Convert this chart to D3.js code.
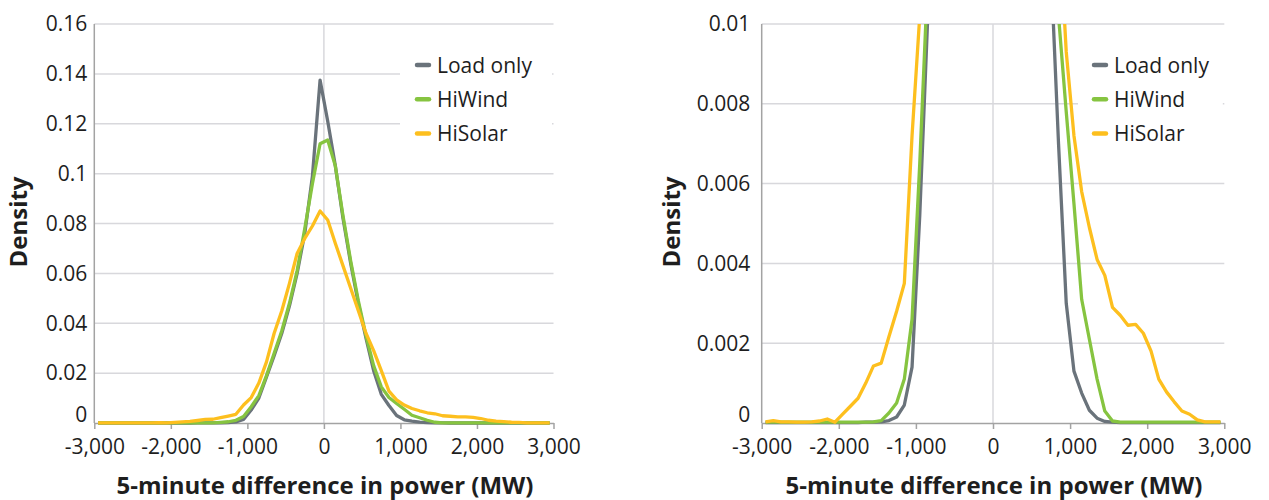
<!DOCTYPE html>
<html><head><meta charset="utf-8">
<script src="https://cdn.jsdelivr.net/npm/d3@7/dist/d3.min.js"></script>
<style>
body{margin:0;background:#fff}
text{font-family:"Open Sans",sans-serif;fill:#1e1e1e}
</style>
</head><body>
<svg id="c" width="1269" height="500"></svg>
<script>
// ---- data ----
const binCenters = [-2950,-2850,-2750,-2650,-2550,-2450,-2350,-2250,-2150,-2050,
  -1950,-1850,-1750,-1650,-1550,-1450,-1350,-1250,-1150,-1050,
  -950,-850,-750,-650,-550,-450,-350,-250,-150,-50,
  50,150,250,350,450,550,650,750,850,950,
  1050,1150,1250,1350,1450,1550,1650,1750,1850,1950,
  2050,2150,2250,2350,2450,2550,2650,2750,2850,2950];

const seriesNames = ["Load only", "HiWind", "HiSolar"];

const loadOnly = [0.00001,0.00001,0.00001,0.00001,0.00001,0.00001,0.00001,0.00001,0.00001,0.00001,
  0.00001,0.00001,0.00001,0.00002,0.00002,0.00003,0.00006,0.00015,0.00045,0.0014,
  0.0052,0.0100,0.0185,0.027,0.036,0.047,0.060,0.076,0.099,0.1375,
  0.121,0.103,0.082,0.064,0.048,0.034,0.021,0.0115,0.0070,0.0030,
  0.0013,0.00075,0.00032,0.00012,0.00004,0.00002,0.00001,0.00001,0.00001,0.00001,
  0.00001,0.00001,0.00001,0.00001,0.00001,0.00001,0.00001,0.00001,0.00001,0.00001];

const hiWind = [0.00002,0.00002,0.00002,0.00002,0.00002,0.00002,0.00002,0.00002,0.00002,0.00002,
  0.00002,0.00002,0.00002,0.00002,0.00003,0.00006,0.00025,0.0005,0.0011,0.0026,
  0.0065,0.011,0.019,0.028,0.037,0.048,0.061,0.078,0.096,0.112,
  0.1135,0.103,0.083,0.065,0.049,0.035,0.023,0.0145,0.0102,0.0078,
  0.0055,0.0031,0.0021,0.0011,0.0003,0.00005,0.00002,0.00002,0.00002,0.00002,
  0.00002,0.00002,0.00002,0.00002,0.00002,0.00002,0.00002,0.00002,0.00002,0.00002];

const hiSolar = [0.00003,0.00006,0.00003,0.00003,0.00002,0.00002,0.00003,0.00005,0.0001,0.00002,
  0.00022,0.00042,0.00062,0.001,0.00143,0.0015,0.00216,0.0028,0.0035,0.0072,
  0.0102,0.016,0.0245,0.036,0.045,0.056,0.068,0.074,0.079,0.085,
  0.0814,0.072,0.063,0.054,0.045,0.036,0.029,0.021,0.0128,0.0093,
  0.0072,0.0058,0.0049,0.0041,0.0037,0.0029,0.0027,0.00245,0.00247,0.00225,
  0.0018,0.0011,0.00078,0.00053,0.0003,0.00022,0.00008,0.00003,0.00003,0.00003];

const xTicks = [-3000,-2000,-1000,0,1000,2000,3000];
const xTickLabels = ["-3,000","-2,000","-1,000","0","1,000","2,000","3,000"];
const yTicksLeft = [0,0.02,0.04,0.06,0.08,0.1,0.12,0.14,0.16];
const yTickLabelsLeft = ["0","0.02","0.04","0.06","0.08","0.1","0.12","0.14","0.16"];
const yTicksRight = [0,0.002,0.004,0.006,0.008,0.01];
const yTickLabelsRight = ["0","0.002","0.004","0.006","0.008","0.01"];

const xTitle = "5-minute difference in power (MW)";
const yTitle = "Density";
const colors = ["#6a737b", "#86c440", "#fdbf1e"];
const seriesValues = [loadOnly, hiWind, hiSolar];

// ---- drawing ----
const svg = d3.select("#c");

function panel(o) {
  const g = svg.append("g");
  const x = d3.scaleLinear().domain([-3000, 3000]).range([o.x0, o.x1]);
  const y = d3.scaleLinear().domain([0, o.yMax]).range([423, 24]);
  const grid = "#d8d8dc", axisC = "#a3a3a3";

  // horizontal gridlines
  g.append("g").selectAll("line").data(o.yTicks.filter(d => d > 0)).join("line")
    .attr("x1", o.x0).attr("x2", o.x1)
    .attr("y1", d => y(d)).attr("y2", d => y(d))
    .attr("stroke", grid).attr("stroke-width", 1.5);
  // vertical line at 0
  g.append("line").attr("x1", x(0)).attr("x2", x(0)).attr("y1", y(o.yMax)).attr("y2", y(0))
    .attr("stroke", grid).attr("stroke-width", 1.5);
  // left axis line
  g.append("line").attr("x1", o.x0).attr("x2", o.x0).attr("y1", y(o.yMax)).attr("y2", y(0))
    .attr("stroke", axisC).attr("stroke-width", 1.5);

  // legend background (cuts gridlines)
  g.append("rect").attr("x", o.legX0).attr("y", 36).attr("width", o.x1 - 1.5 - o.legX0).attr("height", 122)
    .attr("fill", "#fff");

  // bottom axis
  const xa = g.append("g").attr("transform", `translate(0,${y(0)})`)
    .call(d3.axisBottom(x).tickValues(xTicks).tickSize(6).tickSizeOuter(0)
      .tickFormat((d, i) => xTickLabels[i]).tickPadding(10));
  xa.select(".domain").attr("stroke", axisC).attr("stroke-width", 1.5);
  xa.selectAll(".tick line").attr("stroke", axisC).attr("stroke-width", 1.5);
  xa.selectAll(".tick text").attr("font-size", 21).attr("fill", "#1e1e1e")
    .attr("font-family", '"Open Sans",sans-serif');

  // y tick labels
  g.append("g").selectAll("text").data(o.yTicks).join("text")
    .attr("x", o.x0 - o.yLabGap)
    .attr("y", d => y(d) + (d === 0 ? -8 : 0))
    .attr("dy", "0.35em")
    .attr("text-anchor", "end").attr("font-size", 21)
    .text((d, i) => o.yLabels[i]);

  // clip
  const cid = "clip" + o.id;
  svg.append("clipPath").attr("id", cid).append("rect")
    .attr("x", o.x0).attr("y", 24).attr("width", o.x1 - o.x0).attr("height", 399 + 4);

  const line = d3.line().x((d, i) => x(binCenters[i])).y(d => y(d));
  g.append("g").attr("clip-path", `url(#${cid})`)
    .selectAll("path").data(seriesValues).join("path")
    .attr("d", d => line(d))
    .attr("fill", "none")
    .attr("stroke", (d, i) => colors[i])
    .attr("stroke-width", 3.3)
    .attr("stroke-linejoin", "round");

  // legend
  const leg = g.append("g").selectAll("g").data(seriesNames).join("g")
    .attr("transform", (d, i) => `translate(${o.legSymX},${65 + i * 34.3})`);
  leg.append("line").attr("x1", 0).attr("x2", 12).attr("y1", 0).attr("y2", 0)
    .attr("stroke", (d, i) => colors[i]).attr("stroke-width", 4.5).attr("stroke-linecap", "round");
  leg.append("text").attr("x", 20).attr("y", 0).attr("dy", "0.36em")
    .attr("font-size", 21).text(d => d);

  // axis titles
  g.append("text").attr("x", (o.x0 + o.x1) / 2 + 1).attr("y", 494)
    .attr("text-anchor", "middle").attr("font-size", 24).attr("font-weight", "bold")
    .text(xTitle);
  g.append("text").attr("transform", `translate(${o.yTitleX},222) rotate(-90)`)
    .attr("text-anchor", "middle").attr("font-size", 24).attr("font-weight", "bold")
    .text(yTitle);
}

panel({id: "L", x0: 94.3, x1: 553.5, yMax: 0.16, yTicks: yTicksLeft, yLabels: yTickLabelsLeft,
  yLabGap: 7, legX0: 400, legSymX: 417, yTitleX: 27});
panel({id: "R", x0: 761.7, x1: 1224.3, yMax: 0.01, yTicks: yTicksRight, yLabels: yTickLabelsRight,
  yLabGap: 11.5, legX0: 1078, legSymX: 1094, yTitleX: 680});
</script>
</body></html>
